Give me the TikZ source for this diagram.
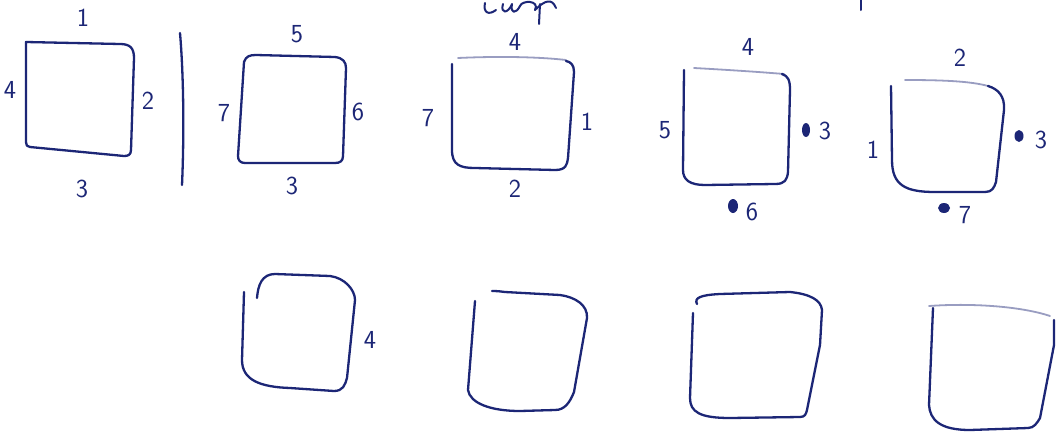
\documentclass[tikz,border=0pt]{standalone}
\begin{document}
\begin{tikzpicture}[x=1pt,y=-1pt]
\definecolor{ink}{RGB}{28,38,118}
\tikzset{
  pen/.style={draw=ink, line width=2.3pt, line cap=round, line join=round},
  faint/.style={draw=ink!45, line width=1.8pt, line cap=round},
  lbl/.style={text=ink, font=\sffamily\fontsize{26}{28}\selectfont, inner sep=0pt},
  blot/.style={fill=ink, draw=none}
}
\useasboundingbox[fill=white] (0,0) rectangle (1056,439);
% cut-off handwriting at the top
\draw[pen, line width=2pt] (485,3) .. controls (483,12) and (488,16) .. (496,10);
\draw[pen, line width=2pt] (503,4) .. controls (500,14) and (508,14) .. (512,4) .. controls (510,14) and (516,14) .. (520,6);
\draw[pen, line width=2pt] (520,6) .. controls (522,0) and (540,0) .. (535,10) .. controls (545,0) and (552,-2) .. (556,8);
\draw[pen, line width=2pt] (540,4) -- (539,24);
\draw[pen, line width=2pt] (861,0) -- (861,10);
% top row
\draw[pen] (26,42) -- (120,44) .. controls (130,44) and (134,48) .. (134,58) -- (131,150) .. controls (131,155) and (128,156) .. (124,156) -- (30,147) .. controls (27,147) and (26,145) .. (26,142) -- cycle;
\node[lbl] (a1) at (83,18) {1};
\node[lbl] (a4) at (10,90) {4};
\node[lbl] (a2) at (148,101) {2};
\node[lbl] (a3) at (82,189) {3};
\draw[pen] (180,33) .. controls (184,80) and (184,140) .. (182,185);
\draw[pen] (244,62) .. controls (246,56) and (250,55) .. (256,55) -- (335,57) .. controls (343,58) and (346,62) .. (346,68) -- (343,156) .. controls (343,161) and (340,163) .. (335,163) -- (245,163) .. controls (240,163) and (238,160) .. (238,156) -- cycle;
\node[lbl] (b5) at (297,34) {5};
\node[lbl] (b7) at (224,113) {7};
\node[lbl] (b6) at (358,112) {6};
\node[lbl] (b3) at (292,186) {3};
\draw[faint] (458,58) .. controls (500,56) and (540,57) .. (566,60);
\draw[pen] (452,64) -- (452,150) .. controls (452,165) and (460,168) .. (475,168) -- (555,170) .. controls (566,170) and (567,165) .. (568,158) -- (574,72) .. controls (574,65) and (571,62) .. (566,61);
\node[lbl] (c4) at (515,42) {4};
\node[lbl] (c7) at (428,118) {7};
\node[lbl] (c1) at (587,122) {1};
\node[lbl] (c2) at (515,189) {2};
\draw[faint] (694,68) .. controls (730,70) and (760,72) .. (784,74);
\draw[pen] (684,70) -- (683,170) .. controls (683,180) and (690,185) .. (705,185) -- (775,184) .. controls (785,184) and (787,180) .. (788,172) -- (790,90) .. controls (790,80) and (788,76) .. (782,74);
\node[lbl] (d4) at (748,47) {4};
\node[lbl] (d5) at (665,130) {5};
\fill[blot] (806,130) ellipse (4pt and 7pt);
\node[lbl] (d3) at (825,131) {3};
\fill[blot] (733,206) ellipse (5pt and 7pt);
\node[lbl] (d6) at (752,212) {6};
\draw[faint] (905,80) .. controls (940,80) and (970,81) .. (988,86);
\draw[pen] (891,86) -- (892,160) .. controls (892,185) and (905,192) .. (935,192) -- (985,192) .. controls (992,192) and (994,188) .. (996,182) -- (1004,110) .. controls (1005,96) and (998,89) .. (988,86);
\node[lbl] (e2) at (960,58) {2};
\node[lbl] (e1) at (873,150) {1};
\fill[blot] (1019,136) ellipse (4.5pt and 6pt);
\node[lbl] (e3) at (1041,140) {3};
\fill[blot] (944,208) ellipse (6pt and 5pt);
\node[lbl] (e7) at (965,215) {7};
% bottom row
\draw[pen] (244,292) -- (242,360) .. controls (242,380) and (260,387) .. (290,388) -- (334,391) .. controls (343,391) and (345,385) .. (347,378) -- (355,300) .. controls (355,290) and (345,278) .. (330,276) -- (275,274) .. controls (262,274) and (258,285) .. (257,298);
\node[lbl] (f4) at (370,340) {4};
\draw[pen] (475,301) -- (468,390) .. controls (470,403) and (490,411) .. (520,411) -- (555,410) .. controls (565,410) and (570,402) .. (574,392) -- (587,318) .. controls (588,305) and (575,297) .. (560,295) -- (505,292) .. controls (498,291) and (494,291) .. (492,291);
\draw[pen] (693,313) -- (690,398) .. controls (690,412) and (700,418) .. (730,418) -- (800,417) .. controls (805,417) and (806,414) .. (807,410) -- (820,345) -- (822,310) .. controls (821,300) and (810,294) .. (790,292) -- (720,294) .. controls (700,295) and (694,298) .. (697,304);
\draw[pen] (933,308) -- (929,405) .. controls (930,420) and (940,430) .. (970,430) -- (1028,428) .. controls (1034,428) and (1037,423) .. (1040,418) -- (1054,345) -- (1054,320);
\draw[faint] (929,306) .. controls (970,303) and (1020,306) .. (1050,316);
\end{tikzpicture}
\end{document}
